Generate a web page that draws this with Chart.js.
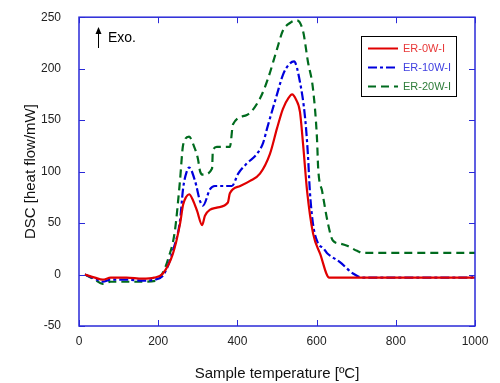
<!DOCTYPE html>
<html>
<head>
<meta charset="utf-8">
<script src="https://cdn.jsdelivr.net/npm/chart.js@4"></script>
<style>
  html, body { margin: 0; padding: 0; background: #fff; }
  #wrap { width: 500px; height: 383px; }
</style>
</head>
<body>
<div id="wrap"><canvas id="dscChart" width="500" height="383"></canvas></div>
<script>
// 溫度 (x) 與各樣品 DSC 訊號 (y)
const tempRed = [15, 40, 60, 80, 120, 160, 190, 212, 237, 255, 263, 270, 278, 288, 298, 311, 318, 348, 376, 381, 407, 432, 457, 482, 500, 515, 530, 538, 548, 558, 566, 576, 591, 609, 632, 700, 800, 900, 1000];
const dscRed  = [0, -3, -5, -3, -3, -4, -3, 1, 20, 49, 68, 75, 78, 72, 62, 48, 57, 65, 70, 79, 86, 91, 98, 117, 142, 161, 172, 175, 170, 158, 126, 81, 40, 20, -3, -3, -3, -3, -3];

const tempBlue = [15, 40, 60, 80, 120, 160, 190, 210, 222, 237, 255, 263, 272, 278, 293, 306, 313, 331, 343, 386, 402, 424, 449, 465, 475, 500, 515, 530, 543, 558, 571, 578, 583, 591, 604, 616, 626, 659, 692, 717, 800, 900, 990, 1000];
const dscBlue  = [0, -4, -7, -5, -5, -6, -5, -2, 6, 23, 52, 84, 100, 104, 91, 71, 67, 83, 86, 86, 98, 108, 117, 128, 142, 175, 194, 204, 207, 187, 152, 117, 81, 49, 30, 26, 21, 12, 1, -3, -3, -3, -3, -2];

const tempGreen = [15, 40, 60, 80, 120, 160, 195, 212, 225, 242, 255, 263, 278, 290, 300, 306, 313, 336, 338, 348, 381, 389, 424, 457, 477, 500, 515, 535, 550, 566, 578, 591, 601, 604, 614, 629, 641, 660, 677, 702, 717, 800, 900, 1000];
const dscGreen  = [0, -5, -9, -7, -7, -7, -6, 2, 15, 42, 91, 126, 134, 125, 113, 100, 97, 103, 120, 124, 124, 146, 155, 171, 190, 219, 237, 245, 247, 236, 207, 180, 132, 103, 81, 49, 33, 30, 28, 23, 21, 21, 21, 21];

const xTicks = [0, 200, 400, 600, 800, 1000];
const yTicks = [-50, 0, 50, 100, 150, 200, 250];

const seriesNames = ["ER-0W-I", "ER-10W-I", "ER-20W-I"];
const seriesColors = ["#e00000", "#0000dd", "#006b1e"];
const legendTextColors = ["#e83838", "#4040e0", "#2e7d3a"];
const seriesDash = [[], [9, 3, 3, 3], [8, 5]];

function toPoints(xs, ys) {
    return xs.map((x, i) => ({ x: x, y: ys[i] }));
}

// 邊框、刻度、圖例與 Exo 標示
const framePlugin = {
    id: "frame",
    afterDraw(chart) {
        const ctx = chart.ctx;
        const a = chart.chartArea;
        const xs = chart.scales.x;
        const ys = chart.scales.y;
        ctx.save();
        ctx.strokeStyle = "#2a2ad8";
        ctx.lineWidth = 1.5;
        ctx.strokeRect(a.left, a.top, a.right - a.left, a.bottom - a.top);
        ctx.lineWidth = 1;
        xTicks.forEach(t => {
            const px = Math.round(xs.getPixelForValue(t)) + 0.5;
            ctx.beginPath();
            ctx.moveTo(px, a.bottom); ctx.lineTo(px, a.bottom - 6);
            ctx.moveTo(px, a.top); ctx.lineTo(px, a.top + 6);
            ctx.stroke();
        });
        yTicks.forEach(t => {
            const py = Math.round(ys.getPixelForValue(t)) + 0.5;
            ctx.beginPath();
            ctx.moveTo(a.left, py); ctx.lineTo(a.left + 6, py);
            ctx.moveTo(a.right, py); ctx.lineTo(a.right - 6, py);
            ctx.stroke();
        });

        // 圖例
        const lx = 361, ly = 36, lw = 95, lh = 60;
        ctx.fillStyle = "#fff";
        ctx.fillRect(lx, ly, lw, lh);
        ctx.strokeStyle = "#000";
        ctx.lineWidth = 1;
        ctx.strokeRect(lx + 0.5, ly + 0.5, lw, lh);
        ctx.font = "11px 'Liberation Sans', Arial, sans-serif";
        ctx.textBaseline = "middle";
        seriesNames.forEach((name, i) => {
            const yy = ly + 12.5 + i * 19;
            ctx.strokeStyle = seriesColors[i];
            ctx.lineWidth = 2;
            ctx.setLineDash(seriesDash[i]);
            ctx.beginPath();
            ctx.moveTo(lx + 7, yy); ctx.lineTo(lx + 37, yy);
            ctx.stroke();
            ctx.setLineDash([]);
            ctx.fillStyle = legendTextColors[i];
            ctx.fillText(name, lx + 42, yy);
        });

        // Exo 箭頭
        ctx.strokeStyle = "#000";
        ctx.fillStyle = "#000";
        ctx.lineWidth = 1;
        ctx.beginPath();
        ctx.moveTo(98.5, 48); ctx.lineTo(98.5, 30);
        ctx.stroke();
        ctx.beginPath();
        ctx.moveTo(98.5, 27); ctx.lineTo(95.5, 34); ctx.lineTo(101.5, 34);
        ctx.closePath();
        ctx.fill();
        ctx.font = "14px 'Liberation Sans', Arial, sans-serif";
        ctx.textBaseline = "middle";
        ctx.fillText("Exo.", 108, 38);
        ctx.restore();
    }
};

const dataSets = [
    toPoints(tempRed, dscRed),
    toPoints(tempBlue, dscBlue),
    toPoints(tempGreen, dscGreen)
];

const ctx = document.getElementById("dscChart").getContext("2d");
new Chart(ctx, {
    type: "line",
    data: {
        datasets: dataSets.map((pts, i) => ({
            label: seriesNames[i],
            data: pts,
            borderColor: seriesColors[i],
            borderWidth: 2.2,
            borderDash: seriesDash[i],
            pointRadius: 0,
            fill: false,
            cubicInterpolationMode: "monotone",
        })),
    },
    options: {
        responsive: false,
        animation: false,
        layout: { padding: { top: 15, right: 25, left: 0, bottom: 0 } },
        plugins: {
            legend: { display: false },
            tooltip: { enabled: false },
        },
        scales: {
            x: {
                type: "linear",
                min: 0,
                max: 1000,
                afterBuildTicks: axis => { axis.ticks = xTicks.map(v => ({ value: v })); },
                afterFit: axis => { axis.height = 57; },
                grid: { display: false },
                border: { display: false },
                ticks: {
                    color: "#222",
                    padding: 0,
                    maxRotation: 0,
                    callback: v => String(v),
                    font: { family: "'Liberation Sans', Arial, sans-serif", size: 12 },
                },
                title: {
                    display: true,
                    text: "Sample temperature [ºC]",
                    color: "#111",
                    padding: { top: 10, bottom: 0 },
                    font: { family: "'Liberation Sans', Arial, sans-serif", size: 15 },
                },
            },
            y: {
                min: -50,
                max: 250,
                afterBuildTicks: axis => { axis.ticks = yTicks.map(v => ({ value: v })); },
                afterFit: axis => { axis.width = 79; },
                grid: { display: false },
                border: { display: false },
                ticks: {
                    color: "#222",
                    padding: 10,
                    callback: v => String(v),
                    font: { family: "'Liberation Sans', Arial, sans-serif", size: 12 },
                },
                title: {
                    display: true,
                    text: "DSC [heat flow/mW]",
                    color: "#111",
                    padding: { top: 22, bottom: 0 },
                    font: { family: "'Liberation Sans', Arial, sans-serif", size: 15 },
                },
            },
        },
    },
    plugins: [framePlugin],
});
</script>
</body>
</html>
